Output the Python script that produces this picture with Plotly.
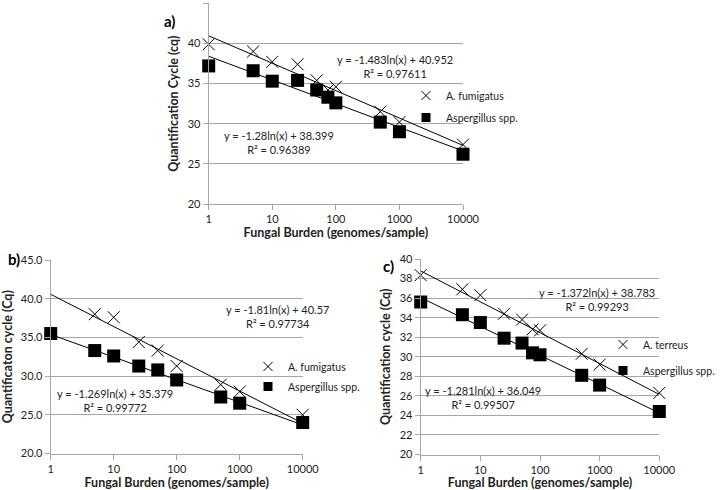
import numpy as np
import plotly.graph_objects as go

W, H = 720, 490

# ---- data ----
burden = [1, 5, 10, 25, 50, 75, 100, 500, 1000, 10000]

a_fumigatus = [39.9, 39.0, 37.7, 37.4, 35.4, 34.2, 34.6, 31.5, 30.2, 27.4]
a_spp = [37.2, 36.6, 35.3, 35.4, 34.2, 33.3, 32.6, 30.2, 29.0, 26.2]

b_burden = [1, 5, 10, 25, 50, 100, 500, 1000, 10000]
b_fumigatus = [None, 38.0, 37.6, 34.4, 33.3, 31.3, 28.9, 28.0, 25.0]
b_spp = [35.5, 33.3, 32.6, 31.3, 30.8, 29.5, 27.3, 26.5, 24.0]

c_terreus = [38.35, 36.9, 36.3, 34.4, 33.8, 32.8, 32.7, 30.3, 29.2, 26.3]
c_spp = [35.6, 34.3, 33.5, 31.9, 31.4, 30.4, 30.2, 28.1, 27.1, 24.4]

# trendline coefficients (slope, intercept) as printed on the chart
fit_a = [(-1.483, 40.952), (-1.28, 38.399)]
fit_b = [(-1.81, 40.57), (-1.269, 35.379)]
fit_c = [(-1.372, 38.783), (-1.281, 36.049)]

x_ticks = [1, 10, 100, 1000, 10000]
x_ticktext = ["1", "10", "100", "1000", "10000"]

FONT = "Lato"
GRID = "#a6a6a6"


def px_x(p):
    return p / W


def px_y(p):
    return 1 - p / H


fig = go.Figure()

panels = [
    # axis suffix, x px range, y px range (top, bottom), legend id, x-title standoff
    ("", (208.7, 463), (3.3, 204), "legend", 4),
    ("2", (50.7, 302.7), (260, 453.5), "legend2", 6),
    ("3", (420.7, 659.3), (259, 454.5), "legend3", 7),
]
series = [
    (burden, a_fumigatus, a_spp, fit_a, "A. fumigatus"),
    (b_burden, b_fumigatus, b_spp, fit_b, "A. fumigatus"),
    (burden, c_terreus, c_spp, fit_c, "A. terreus"),
]
line_x = np.logspace(0, 4, 60)

for (sfx, xr, yr, leg, _), (xs, s1, s2, fits, name1) in zip(panels, series):
    xa, ya = "x" + sfx, "y" + sfx
    for slope, icpt in fits:
        fig.add_trace(go.Scatter(
            x=line_x, y=slope * np.log(line_x) + icpt, mode="lines",
            line=dict(color="black", width=1), showlegend=False,
            xaxis=xa, yaxis=ya, hoverinfo="skip", cliponaxis=False))
    fig.add_trace(go.Scatter(
        x=xs, y=s1, mode="markers", showlegend=False, xaxis=xa, yaxis=ya,
        cliponaxis=False,
        marker=dict(symbol="x-thin", size=12, line=dict(width=1, color="black"))))
    fig.add_trace(go.Scatter(
        x=xs, y=s2, mode="markers", showlegend=False, xaxis=xa, yaxis=ya,
        cliponaxis=False,
        marker=dict(symbol="square", size=13, color="black")))
    # legend entries with small symbols
    fig.add_trace(go.Scatter(
        x=[None], y=[None], mode="markers", name=name1, legend=leg,
        legendgroup=leg + "1", xaxis=xa, yaxis=ya,
        marker=dict(symbol="x-thin", size=9, line=dict(width=1, color="black"))))
    fig.add_trace(go.Scatter(
        x=[None], y=[None], mode="markers", name="Aspergillus spp.", legend=leg,
        legendgroup=leg + "2", xaxis=xa, yaxis=ya,
        marker=dict(symbol="square", size=9, color="black")))

axis_common = dict(showline=True, linecolor=GRID, linewidth=1, ticks="outside",
                   tickcolor=GRID, ticklen=5, tickfont=dict(size=11, color="#222"),
                   zeroline=False, automargin=False)

layout = dict(
    width=W, height=H, margin=dict(l=0, r=0, t=0, b=0, autoexpand=False),
    plot_bgcolor="white", paper_bgcolor="white",
    font=dict(family=FONT, color="#222"),
)

y_specs = [
    ([20, 45], 5, None, "Quantification Cycle (cq)"),
    ([20, 45], 5, ".1f", "Quantificaton cycle (Cq)"),
    ([20, 40], 2, None, "Quantification cycle (Cq)"),
]

for (sfx, xr, yr, leg, so), (yrange, dt, fmt, ytitle) in zip(panels, y_specs):
    layout["xaxis" + sfx] = dict(
        type="log", range=[0, 4], domain=[px_x(xr[0]), px_x(xr[1])],
        anchor="y" + sfx, tickvals=x_ticks, ticktext=x_ticktext, showgrid=False,
        title=dict(text="<b>Fungal Burden (genomes/sample)</b>", font=dict(size=12.5),
                   standoff=so),
        **axis_common)
    ydict = dict(
        range=yrange, dtick=dt, tick0=20, domain=[px_y(yr[1]), px_y(yr[0])],
        anchor="x" + sfx, showgrid=True, gridcolor=GRID, gridwidth=1,
        title=dict(text="<b>" + ytitle + "</b>", font=dict(size=12.5), standoff=6),
        **axis_common)
    if fmt:
        ydict["tickformat"] = fmt
    layout["yaxis" + sfx] = ydict

# legend left x, top y (px) and gap between the two entries
legend_pos = {"legend": (406, 81, 3), "legend2": (248, 352, 1),
              "legend3": (603, 330, 7)}
for leg, (lx, ly, gap) in legend_pos.items():
    layout[leg] = dict(x=px_x(lx), y=px_y(ly), xanchor="left", yanchor="top",
                       bgcolor="rgba(0,0,0,0)", font=dict(size=10.5),
                       itemwidth=30, tracegroupgap=gap, traceorder="grouped")

fig.update_layout(**layout)

notes = [
    ("y = -1.483ln(x) + 40.952<br>R² = 0.97611", 395, 67),
    ("y = -1.28ln(x) + 38.399<br>R² = 0.96389", 279, 143),
    ("y = -1.81ln(x) + 40.57<br>R² = 0.97734", 277, 316),
    ("y = -1.269ln(x) + 35.379<br>R² = 0.99772", 115, 400),
    ("y = -1.372ln(x) + 38.783<br>R² = 0.99293", 597, 299),
    ("y = -1.281ln(x) + 36.049<br>R² = 0.99507", 483, 397),
]
for text, nx, ny in notes:
    fig.add_annotation(text=text, x=px_x(nx), y=px_y(ny), xref="paper", yref="paper",
                       showarrow=False, font=dict(size=11, color="#222"),
                       xanchor="center", yanchor="middle", align="center")

for label, lx, ly in [("a)", 162, 10), ("b)", 6, 259), ("c)", 388, 266)]:
    fig.add_annotation(text="<b>" + label + "</b>", x=px_x(lx), y=px_y(ly),
                       xref="paper", yref="paper", showarrow=False,
                       font=dict(size=15, color="black"))

# drop the default page margin so the figure sits at the window's corner
fig.write_html("out.html", config={"displayModeBar": False},
               post_script="document.body.style.margin='0';")
